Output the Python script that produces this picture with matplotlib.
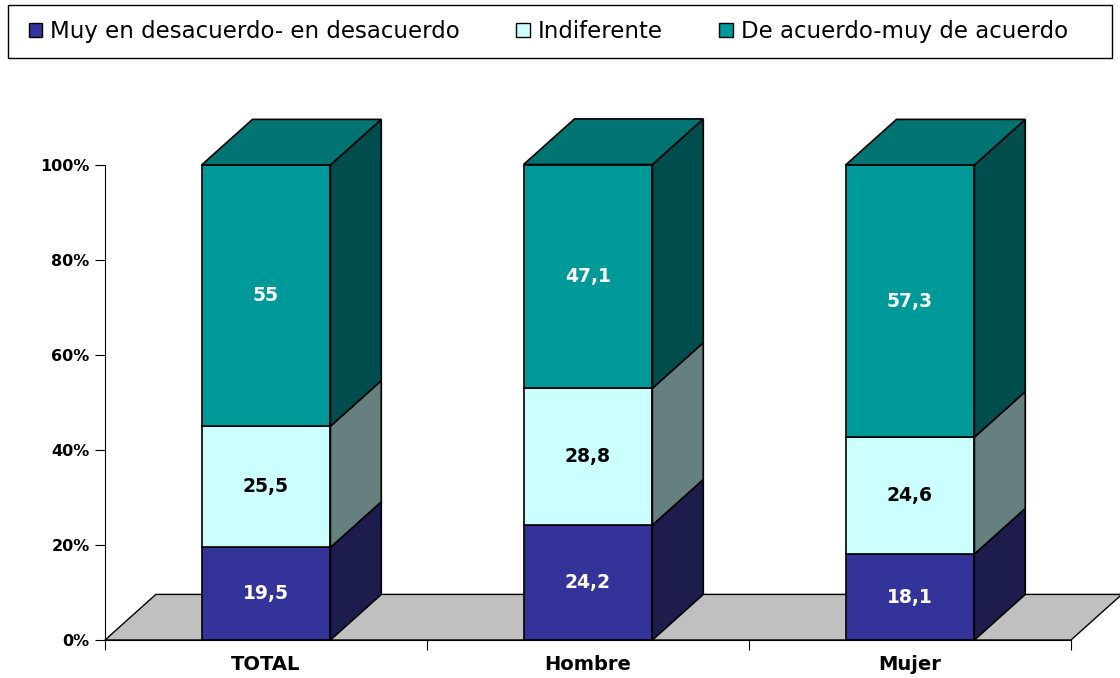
import numpy as np
import matplotlib
matplotlib.use("Agg")
from matplotlib import pyplot as plt
from matplotlib.patches import Polygon, Rectangle, Patch

categories = ["TOTAL", "Hombre", "Mujer"]
series_names = ["Muy en desacuerdo- en desacuerdo", "Indiferente", "De acuerdo-muy de acuerdo"]
desacuerdo = [19.5, 24.2, 18.1]
indiferente = [25.5, 28.8, 24.6]
acuerdo = [55, 47.1, 57.3]
labels = [["19,5", "24,2", "18,1"], ["25,5", "28,8", "24,6"], ["55", "47,1", "57,3"]]

front = ["#333399", "#CCFFFF", "#009999"]
side = ["#1C1C4D", "#668080", "#004D4D"]
top = ["#26266F", "#99BFBF", "#007373"]
txt = ["white", "black", "white"]

dx, dy = 0.158, 9.6   # depth offset (category units, percent units)
w = 0.40

fig = plt.figure(figsize=(11.2, 6.78), dpi=100)
ax = fig.add_axes([0.09375, 0.05605, 0.8625, 0.7006])
ax.set_xlim(0, 3)
ax.set_ylim(0, 100)

# floor
ax.add_patch(Polygon([(0, 0), (3, 0), (3 + dx, dy), (dx, dy)], closed=True,
                     facecolor="#C0C0C0", edgecolor="black", lw=1, clip_on=False, zorder=1))

series = [desacuerdo, indiferente, acuerdo]
for i, cat in enumerate(categories):
    x0 = i + 0.5 - w / 2
    x1 = x0 + w
    bottom = 0
    for s in range(3):
        h = series[s][i]
        y0, y1 = bottom, bottom + h
        ax.add_patch(Rectangle((x0, y0), w, h, facecolor=front[s], edgecolor="black",
                               lw=1.2, clip_on=False, zorder=3))
        ax.add_patch(Polygon([(x1, y0), (x1 + dx, y0 + dy), (x1 + dx, y1 + dy), (x1, y1)],
                             closed=True, facecolor=side[s], edgecolor="black", lw=1.2,
                             clip_on=False, zorder=3))
        if s == 2:
            ax.add_patch(Polygon([(x0, y1), (x1, y1), (x1 + dx, y1 + dy), (x0 + dx, y1 + dy)],
                                 closed=True, facecolor=top[s], edgecolor="black", lw=1.2,
                                 clip_on=False, zorder=3))
        ax.text(i + 0.5, (y0 + y1) / 2, labels[s][i], ha="center", va="center",
                color=txt[s], fontsize=13.5, fontweight="bold", zorder=4)
        bottom = y1

for sp in ["top", "right"]:
    ax.spines[sp].set_visible(False)
ax.spines["left"].set_zorder(0)
ax.set_yticks([0, 20, 40, 60, 80, 100])
ax.set_yticklabels(["0%", "20%", "40%", "60%", "80%", "100%"], fontsize=11.5, fontweight="bold")
ax.set_xticks([0, 1, 2, 3])
ax.set_xticklabels([])
ax.set_xticks([0.5, 1.5, 2.5], minor=True)
ax.set_xticklabels(categories, minor=True, fontsize=14, fontweight="bold")
ax.tick_params(axis="x", which="minor", length=0, pad=11)
ax.tick_params(axis="both", which="major", length=7, direction="out")
ax.tick_params(axis="y", pad=4)

# legend box drawn separately so its padding matches the original
fig.patches.append(Rectangle((8 / 1120, 1 - 58 / 678), 1104 / 1120, 53 / 678,
                             transform=fig.transFigure, facecolor="white",
                             edgecolor="black", lw=1, zorder=0))
handles = [Patch(facecolor=front[s], edgecolor="black", label=series_names[s]) for s in range(3)]
leg = fig.legend(handles=handles, loc="center", bbox_to_anchor=(0.4897, 0.9535), ncol=3,
                 fontsize=16.5, frameon=False,
                 handlelength=0.6, handleheight=0.6, handletextpad=0.35, columnspacing=2.45,
                 borderpad=0, borderaxespad=0)

fig.savefig("out.png", dpi=100)
